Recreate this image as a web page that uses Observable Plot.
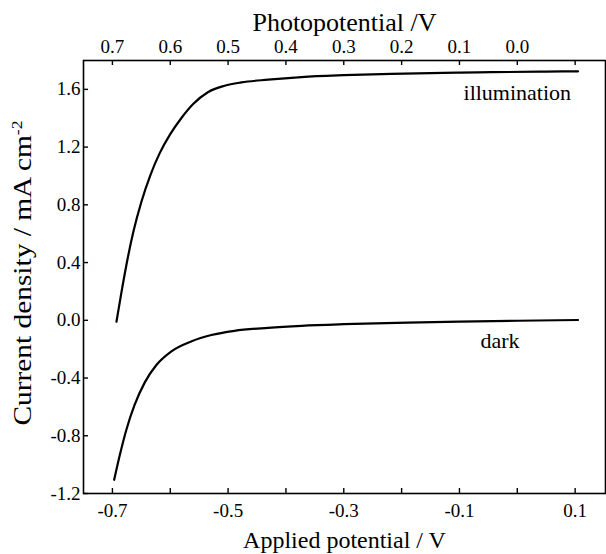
<!DOCTYPE html>
<html><head><meta charset="utf-8">
<script src="https://cdn.jsdelivr.net/npm/d3@7"></script>
<script src="https://cdn.jsdelivr.net/npm/@observablehq/plot@0.6"></script>
<style>body{margin:0;background:#fff}</style>
</head><body><div id="chart"></div>
<script>
// Illumination curve: applied potential (V) and current density (mA cm-2)
const illumV = [-0.693,-0.685,-0.676,-0.664,-0.650,-0.634,-0.618,-0.600,-0.581,-0.560,-0.535,-0.506,-0.477,-0.431,-0.373,-0.300,-0.218,-0.100,-0.045,0.050,0.105];
const illumJ = [-0.01,0.18,0.38,0.61,0.82,1.01,1.16,1.29,1.40,1.50,1.58,1.625,1.648,1.667,1.685,1.698,1.708,1.716,1.719,1.723,1.725];
// Dark curve
const darkV = [-0.697,-0.687,-0.676,-0.662,-0.644,-0.624,-0.598,-0.563,-0.529,-0.489,-0.431,-0.373,-0.300,-0.190,-0.100,0.000,0.105];
const darkJ = [-1.105,-0.93,-0.76,-0.59,-0.43,-0.31,-0.215,-0.145,-0.102,-0.073,-0.052,-0.038,-0.027,-0.016,-0.009,-0.003,0.002];

const bottomTicks = [-0.7,-0.6,-0.5,-0.4,-0.3,-0.2,-0.1,0.0,0.1];
const bottomLabels = [-0.7,-0.5,-0.3,-0.1,0.1];
const topTicks = [-0.7,-0.6,-0.5,-0.4,-0.3,-0.2,-0.1,0.0,0.1];
const topTickLabels = ["0.7","0.6","0.5","0.4","0.3","0.2","0.1","0.0"];
const yTicks = [-1.2,-0.8,-0.4,0.0,0.4,0.8,1.2,1.6];
const curveLabels = [
  {v: 0.0, j: 1.574, text: "illumination"},
  {v: -0.03, j: -0.144, text: "dark"}
];
const xTitle = "Applied potential / V";
const topTitle = "Photopotential /V";
const yTitle = "Current density / mA cm";
const yTitleSup = "-2";

const illum = illumV.map((v,i) => ({v, j: illumJ[i]}));
const dark = darkV.map((v,i) => ({v, j: darkJ[i]}));

const W = 606, H = 554, mL = 83, mR = 1, mT = 60, mB = 61;
const innerW = W - mL - mR, innerH = H - mT - mB;
const tick = 5;
const serif = "'Liberation Serif', 'Times New Roman', serif";

const plot = Plot.plot({
  width: W, height: H,
  marginLeft: mL, marginRight: mR, marginTop: mT, marginBottom: mB,
  style: {fontFamily: serif, fontSize: "19px", color: "black", background: "white"},
  x: {domain: [-0.75, 0.1525]},
  y: {domain: [-1.2, 1.8]},
  marks: [
    Plot.frame({stroke: "black", strokeWidth: 1.6}),
    Plot.tickX(bottomTicks, {x: d => d, insetTop: innerH - tick, stroke: "black", strokeWidth: 1.4}),
    Plot.tickX(topTicks, {x: d => d, insetBottom: innerH - tick, stroke: "black", strokeWidth: 1.4}),
    Plot.tickY(yTicks, {y: d => d, insetRight: innerW - tick, stroke: "black", strokeWidth: 1.4}),
    Plot.axisX(bottomLabels, {anchor: "bottom", tickSize: 0, tickPadding: 10, tickFormat: d => d.toFixed(1), label: null, fontSize: 19}),
    Plot.axisX(topTicks.slice(0, topTickLabels.length), {anchor: "top", tickSize: 0, tickPadding: 8,
      tickFormat: d => topTickLabels[topTicks.findIndex(t => Math.abs(t - d) < 1e-9)], label: null, fontSize: 19}),
    Plot.axisY(yTicks, {anchor: "left", tickSize: 0, tickPadding: 3, tickFormat: d => d.toFixed(1), label: null, fontSize: 19}),
    Plot.line(illum, {x: "v", y: "j", curve: "monotone-x", stroke: "black", strokeWidth: 2.2}),
    Plot.line(dark, {x: "v", y: "j", curve: "monotone-x", stroke: "black", strokeWidth: 2.2}),
    Plot.text(curveLabels, {x: "v", y: "j", text: "text", fontSize: 22, fill: "black", lineAnchor: "middle"}),
    Plot.text([xTitle], {frameAnchor: "bottom", dy: 47, fontSize: 24, fill: "black", lineAnchor: "middle"}),
    Plot.text([topTitle], {frameAnchor: "top", dy: -38, fontSize: 26, fill: "black", lineAnchor: "middle"}),
    Plot.text([yTitle], {frameAnchor: "left", dx: -61, dy: -4, rotate: -90, fontSize: 25, fill: "black", lineAnchor: "middle", textAnchor: "middle"})
  ]
});

d3.select(plot).selectAll("g").attr("font-family", serif).attr("font-variant", "normal");
d3.select(plot).selectAll("text").attr("font-family", serif).attr("font-variant", "normal");
d3.select(plot).selectAll("text")
  .filter(function() { return this.textContent === yTitle; })
  .attr("textLength", 305).attr("lengthAdjust", "spacingAndGlyphs")
  .append("tspan").attr("dy", "-0.55em").attr("font-size", "15px").text(yTitleSup);

document.getElementById("chart").appendChild(plot);
</script>
</body></html>
